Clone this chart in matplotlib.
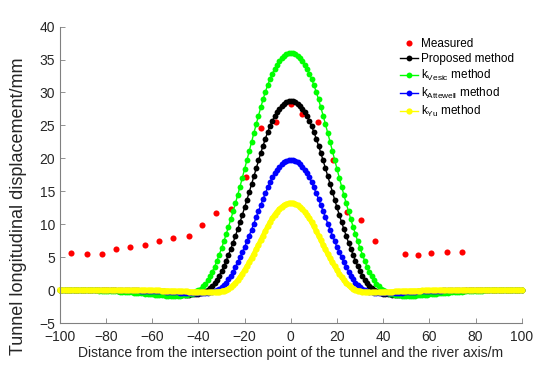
import matplotlib
matplotlib.use('Agg')
import matplotlib.pyplot as plt

plt.rcParams['font.family'] = ['Liberation Sans', 'DejaVu Sans']
plt.rcParams['mathtext.fontset'] = 'custom'
plt.rcParams['mathtext.rm'] = 'Liberation Sans'

# distance along the tunnel, m
dist = list(range(-100, 101))

# measured settlement, mm
meas_x = [-95.2, -88.2, -81.9, -75.7, -69.5, -63.3, -57.1, -51.0, -44.2, -38.6,
          -32.4, -25.9, -19.4, -13.0, -6.2, 0.0, 4.7, 11.9, 18.4, 24.5,
          30.3, 36.6, 49.3, 55.1, 60.9, 67.5, 74.0]
meas_y = [5.6, 5.5, 5.5, 6.2, 6.6, 6.9, 7.5, 8.0, 8.2, 9.9,
          11.7, 12.3, 17.2, 24.6, 25.5, 28.2, 26.8, 25.6, 19.7, 11.9,
          10.6, 7.4, 5.45, 5.35, 5.65, 5.86, 5.86]

# proposed method, x = -100..-1 and 0..100
proposed_left = [
    0.09, 0.08, 0.08, 0.08, 0.08, 0.08, 0.07, 0.07, 0.07, 0.07, 0.06,
    0.06, 0.06, 0.05, 0.05, 0.04, 0.04, 0.03, 0.03, 0.02, 0.02,
    0.01, 0.00, -0.01, -0.03, -0.04, -0.05, -0.06, -0.09, -0.10, -0.11,
    -0.13, -0.15, -0.17, -0.18, -0.20, -0.22, -0.25, -0.27, -0.30, -0.32,
    -0.35, -0.39, -0.42, -0.44, -0.48, -0.52, -0.55, -0.57, -0.60, -0.63,
    -0.66, -0.66, -0.69, -0.69, -0.69, -0.66, -0.63, -0.60, -0.55, -0.49,
    -0.40, -0.26, -0.09, 0.11, 0.34, 0.69, 1.09, 1.61, 2.21, 2.90,
    3.64, 4.48, 5.37, 6.29, 7.23, 8.24, 9.27, 10.33, 11.42, 12.57,
    13.72, 14.90, 16.10, 17.31, 18.51, 19.69, 20.84, 21.93, 23.02, 23.99,
    24.91, 25.69, 26.38, 26.98, 27.52, 27.93, 28.30, 28.53, 28.67]
proposed_right = [
    28.70, 28.67, 28.53, 28.30, 27.93, 27.52, 26.98, 26.38, 25.69, 24.91,
    23.99, 23.02, 21.93, 20.84, 19.69, 18.51, 17.31, 16.10, 14.90, 13.72,
    12.57, 11.42, 10.33, 9.27, 8.24, 7.23, 6.29, 5.37, 4.48, 3.64,
    2.90, 2.21, 1.61, 1.09, 0.69, 0.34, 0.11, -0.09, -0.26, -0.40,
    -0.49, -0.55, -0.60, -0.63, -0.66, -0.69, -0.69, -0.69, -0.66, -0.66,
    -0.63, -0.60, -0.57, -0.55, -0.52, -0.48, -0.44, -0.42, -0.39, -0.35,
    -0.32, -0.30, -0.27, -0.25, -0.22, -0.20, -0.18, -0.17, -0.15, -0.13,
    -0.11, -0.10, -0.09, -0.06, -0.05, -0.04, -0.03, -0.01, 0.00, 0.01,
    0.02, 0.02, 0.03, 0.03, 0.04, 0.04, 0.05, 0.05, 0.06, 0.06,
    0.06, 0.07, 0.07, 0.07, 0.07, 0.08, 0.08, 0.08, 0.08, 0.08, 0.09]

# k_Vesic method
vesic_left = [
    0.11, 0.10, 0.10, 0.09, 0.09, 0.08, 0.07, 0.07, 0.06, 0.05, 0.04,
    0.03, 0.02, 0.01, 0.00, -0.01, -0.02, -0.04, -0.05, -0.07, -0.08,
    -0.10, -0.12, -0.14, -0.16, -0.18, -0.20, -0.22, -0.24, -0.26, -0.29,
    -0.31, -0.34, -0.37, -0.40, -0.43, -0.47, -0.50, -0.54, -0.58, -0.61,
    -0.65, -0.68, -0.72, -0.76, -0.79, -0.83, -0.83, -0.86, -0.86, -0.86,
    -0.86, -0.83, -0.79, -0.76, -0.68, -0.61, -0.50, -0.36, -0.18, 0.00,
    0.25, 0.58, 1.01, 1.51, 2.12, 2.81, 3.60, 4.46, 5.40, 6.37,
    7.42, 8.50, 9.61, 10.76, 11.95, 13.18, 14.44, 15.73, 17.06, 18.40,
    19.76, 21.13, 22.50, 23.87, 25.20, 26.50, 27.76, 28.98, 30.10, 31.14,
    32.04, 32.87, 33.59, 34.24, 34.78, 35.21, 35.57, 35.82, 35.96]
vesic_right = [
    36.00, 35.96, 35.82, 35.57, 35.21, 34.78, 34.24, 33.59, 32.87, 32.04,
    31.14, 30.10, 28.98, 27.76, 26.50, 25.20, 23.87, 22.50, 21.13, 19.76,
    18.40, 17.06, 15.73, 14.44, 13.18, 11.95, 10.76, 9.61, 8.50, 7.42,
    6.37, 5.40, 4.46, 3.60, 2.81, 2.12, 1.51, 1.01, 0.58, 0.25,
    0.00, -0.18, -0.36, -0.50, -0.61, -0.68, -0.76, -0.79, -0.83, -0.86,
    -0.86, -0.86, -0.86, -0.83, -0.83, -0.79, -0.76, -0.72, -0.68, -0.65,
    -0.61, -0.58, -0.54, -0.50, -0.47, -0.43, -0.40, -0.37, -0.34, -0.31,
    -0.29, -0.26, -0.24, -0.22, -0.20, -0.18, -0.16, -0.14, -0.12, -0.10,
    -0.08, -0.07, -0.05, -0.04, -0.02, -0.01, 0.00, 0.01, 0.02, 0.03,
    0.04, 0.05, 0.06, 0.07, 0.07, 0.08, 0.09, 0.09, 0.10, 0.10, 0.11]

# k_Attewell method
attewell_left = [
    0.07, 0.07, 0.07, 0.07, 0.07, 0.07, 0.07, 0.06, 0.06, 0.06, 0.06,
    0.06, 0.06, 0.06, 0.06, 0.05, 0.05, 0.05, 0.05, 0.04, 0.04,
    0.04, 0.04, 0.03, 0.03, 0.03, 0.02, 0.02, 0.01, 0.01, 0.00,
    0.00, -0.01, -0.02, -0.03, -0.04, -0.06, -0.07, -0.08, -0.09, -0.10,
    -0.11, -0.13, -0.14, -0.16, -0.18, -0.20, -0.22, -0.24, -0.27, -0.29,
    -0.32, -0.34, -0.37, -0.39, -0.42, -0.44, -0.46, -0.47, -0.48, -0.48,
    -0.48, -0.45, -0.42, -0.38, -0.32, -0.24, -0.12, 0.00, 0.18, 0.44,
    0.76, 1.17, 1.65, 2.22, 2.84, 3.50, 4.23, 4.98, 5.76, 6.57,
    7.43, 8.30, 9.21, 10.12, 11.06, 12.00, 12.94, 13.86, 14.75, 15.60,
    16.40, 17.13, 17.74, 18.28, 18.74, 19.13, 19.41, 19.63, 19.76]
attewell_right = [
    19.80, 19.76, 19.63, 19.41, 19.13, 18.74, 18.28, 17.74, 17.13, 16.40,
    15.60, 14.75, 13.86, 12.94, 12.00, 11.06, 10.12, 9.21, 8.30, 7.43,
    6.57, 5.76, 4.98, 4.23, 3.50, 2.84, 2.22, 1.65, 1.17, 0.76,
    0.44, 0.18, 0.00, -0.12, -0.24, -0.32, -0.38, -0.42, -0.45, -0.48,
    -0.48, -0.48, -0.47, -0.46, -0.44, -0.42, -0.39, -0.37, -0.34, -0.32,
    -0.29, -0.27, -0.24, -0.22, -0.20, -0.18, -0.16, -0.14, -0.13, -0.11,
    -0.10, -0.09, -0.08, -0.07, -0.06, -0.04, -0.03, -0.02, -0.01, 0.00,
    0.00, 0.01, 0.01, 0.02, 0.02, 0.03, 0.03, 0.03, 0.04, 0.04,
    0.04, 0.04, 0.05, 0.05, 0.05, 0.05, 0.06, 0.06, 0.06, 0.06,
    0.06, 0.06, 0.06, 0.06, 0.07, 0.07, 0.07, 0.07, 0.07, 0.07, 0.07]

# k_Yu method
yu_left = [
    0.04, 0.04, 0.04, 0.04, 0.04, 0.04, 0.04, 0.04, 0.04, 0.04, 0.04,
    0.04, 0.04, 0.04, 0.04, 0.04, 0.04, 0.04, 0.04, 0.04, 0.04,
    0.04, 0.04, 0.04, 0.04, 0.04, 0.04, 0.04, 0.04, 0.03, 0.03,
    0.03, 0.03, 0.03, 0.02, 0.02, 0.02, 0.01, 0.01, 0.00, 0.00,
    -0.01, -0.02, -0.03, -0.04, -0.05, -0.06, -0.07, -0.08, -0.09, -0.10,
    -0.12, -0.13, -0.15, -0.16, -0.18, -0.20, -0.22, -0.24, -0.26, -0.28,
    -0.30, -0.31, -0.32, -0.32, -0.32, -0.30, -0.28, -0.25, -0.21, -0.15,
    -0.05, 0.05, 0.21, 0.44, 0.73, 1.08, 1.52, 1.98, 2.49, 3.05,
    3.63, 4.22, 4.86, 5.50, 6.19, 6.89, 7.59, 8.30, 9.00, 9.68,
    10.32, 10.92, 11.46, 11.92, 12.30, 12.63, 12.87, 13.06, 13.17]
yu_right = [
    13.20, 13.17, 13.06, 12.87, 12.63, 12.30, 11.92, 11.46, 10.92, 10.32,
    9.68, 9.00, 8.30, 7.59, 6.89, 6.19, 5.50, 4.86, 4.22, 3.63,
    3.05, 2.49, 1.98, 1.52, 1.08, 0.73, 0.44, 0.21, 0.05, -0.05,
    -0.15, -0.21, -0.25, -0.28, -0.30, -0.32, -0.32, -0.32, -0.31, -0.30,
    -0.28, -0.26, -0.24, -0.22, -0.20, -0.18, -0.16, -0.15, -0.13, -0.12,
    -0.10, -0.09, -0.08, -0.07, -0.06, -0.05, -0.04, -0.03, -0.02, -0.01,
    0.00, 0.00, 0.01, 0.01, 0.02, 0.02, 0.02, 0.03, 0.03, 0.03,
    0.03, 0.03, 0.04, 0.04, 0.04, 0.04, 0.04, 0.04, 0.04, 0.04,
    0.04, 0.04, 0.04, 0.04, 0.04, 0.04, 0.04, 0.04, 0.04, 0.04,
    0.04, 0.04, 0.04, 0.04, 0.04, 0.04, 0.04, 0.04, 0.04, 0.04, 0.04]

proposed = proposed_left + proposed_right
vesic = vesic_left + vesic_right
attewell = attewell_left + attewell_right
yu = yu_left + yu_right
for s in (proposed, vesic, attewell, yu):
    assert len(s) == len(dist), len(s)

x_ticks = [-100, -80, -60, -40, -20, 0, 20, 40, 60, 80, 100]
y_ticks = [-5, 0, 5, 10, 15, 20, 25, 30, 35, 40]

fig = plt.figure(figsize=(5.5, 3.69), dpi=100)
ax = fig.add_axes([0.109, 0.124, 0.8395, 0.804])

ms = 4.2
ax.plot(meas_x, meas_y, 'o', color='red', ms=4.4, mec='none', label='Measured', clip_on=False)
ax.plot(dist, proposed, '-o', color='black', lw=1, ms=ms, mec='none',
        label='Proposed method', clip_on=False)
ax.plot(dist, vesic, '-o', color='#00ff00', lw=1, ms=ms, mec='none',
        label=r'k$_{\mathrm{Vesic}}$ method', clip_on=False)
ax.plot(dist, attewell, '-o', color='blue', lw=1, ms=ms, mec='none',
        label=r'k$_{\mathrm{Attewell}}$ method', clip_on=False)
# yellow band looks solid in the original
ax.plot(dist, yu, '-', color='#ffff00', lw=3.5, clip_on=False)
ax.plot(dist, yu, '-o', color='#ffff00', lw=1, ms=ms + 0.3, mec='none',
        label=r'k$_{\mathrm{Yu}}$ method', clip_on=False)

ax.set_xlim(-100, 100)
ax.set_ylim(-5, 40)
ax.set_xticks(x_ticks)
ax.set_yticks(y_ticks)
ax.tick_params(direction='in', length=3.5, width=0.6, colors='#808080',
               labelcolor='#262626', labelsize=10)
ax.tick_params(axis='x', pad=5)
for side in ('top', 'right'):
    ax.spines[side].set_visible(False)
for side in ('left', 'bottom'):
    ax.spines[side].set_color('#808080')
    ax.spines[side].set_linewidth(0.8)

ax.set_xlabel('Distance from the intersection point of the tunnel and the river axis/m',
              fontsize=10, color='#262626', labelpad=1)
ax.set_ylabel('Tunnel longitudinal displacement/mm', fontsize=13, color='#262626')
ax.yaxis.set_label_coords(-0.072, 0.395)

ax.legend(loc='upper left', bbox_to_anchor=(0.726, 0.978), frameon=False, fontsize=8.5,
          handlelength=1.5, handletextpad=0.3, labelspacing=0.25, borderaxespad=0)

fig.savefig('out.png', dpi=100)
